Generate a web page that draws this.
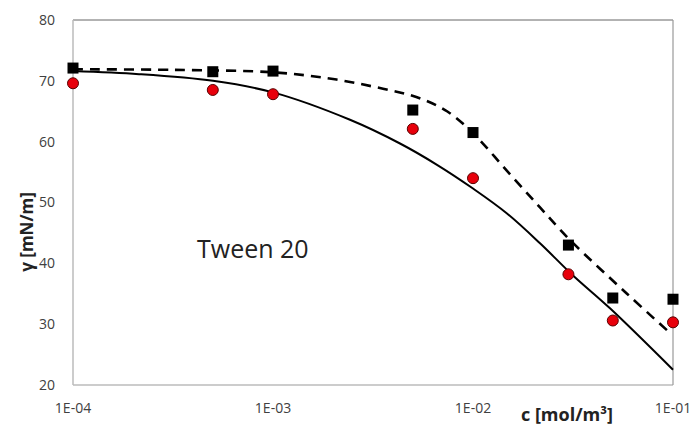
<!DOCTYPE html>
<html>
<head>
<meta charset="utf-8">
<script src="https://cdn.jsdelivr.net/npm/d3@7"></script>
<style>
  body { margin: 0; background: #fff; }
  text { font-family: 'Open Sans', sans-serif; }
</style>
</head>
<body>
<div id="chart"></div>
<script>
// measured points, c in mol/m3
const conc = [1e-4, 5e-4, 1e-3, 5e-3, 1e-2, 3e-2, 5e-2, 1e-1]
const gammaSquares = [72.1, 71.5, 71.6, 65.2, 61.5, 43.0, 34.3, 34.1]
const gammaCircles = [69.6, 68.5, 67.8, 62.1, 54.0, 38.2, 30.6, 30.3]

// fitted curves (log10 c, gamma)
const solidLogC = [-4.0, -3.67, -3.3, -3.0, -2.615, -2.365, -2.18, -2.0, -1.83, -1.665, -1.5, -1.315, -1.0]
const solidGamma = [71.6, 71.1, 70.0, 68.1, 63.6, 59.7, 56.2, 52.3, 48.2, 43.3, 38.0, 32.6, 22.5]
const dashLogC = [-4.0, -3.5, -3.0, -2.7, -2.45, -2.28, -2.13, -2.0, -1.83, -1.665, -1.52, -1.23, -1.03]
const dashGamma = [71.9, 71.8, 71.4, 70.3, 68.7, 67.3, 65.0, 61.4, 55.2, 49.2, 44.0, 35.0, 29.0]

const xTicks = [1e-4, 1e-3, 1e-2, 1e-1]
const xTickLabels = ['1E-04', '1E-03', '1E-02', '1E-01']
const yTicks = [20, 30, 40, 50, 60, 70, 80]

const width = 694
const height = 426
const margin = { top: 20, left: 73, right: 21, bottom: 41 }

const svg = d3
  .select('#chart')
  .append('svg')
  .attr('width', width)
  .attr('height', height)

const x = d3
  .scaleLog()
  .domain([1e-4, 1e-1])
  .range([margin.left, width - margin.right])

const y = d3
  .scaleLinear()
  .domain([20, 80])
  .range([height - margin.bottom, margin.top])

// plot frame
svg.append('line')
  .attr('x1', x(1e-4)).attr('x2', x(1e-1))
  .attr('y1', y(80)).attr('y2', y(80))
  .attr('stroke', '#666').attr('stroke-width', 1)
svg.append('line')
  .attr('x1', x(1e-1)).attr('x2', x(1e-1))
  .attr('y1', y(80)).attr('y2', y(20))
  .attr('stroke', '#999').attr('stroke-width', 1.2)
svg.append('line')
  .attr('x1', x(1e-4)).attr('x2', x(1e-1))
  .attr('y1', y(20)).attr('y2', y(20))
  .attr('stroke', '#999').attr('stroke-width', 1.2)
svg.append('line')
  .attr('x1', x(1e-4)).attr('x2', x(1e-4))
  .attr('y1', y(80)).attr('y2', y(20))
  .attr('stroke', '#bbb').attr('stroke-width', 1.5)

// tick labels
svg.append('g')
  .selectAll('text')
  .data(yTicks)
  .enter()
  .append('text')
  .attr('x', 55)
  .attr('y', d => y(d))
  .attr('dy', '0.35em')
  .attr('text-anchor', 'end')
  .attr('font-size', 14)
  .attr('fill', '#404040')
  .text(d => d)

svg.append('g')
  .selectAll('text')
  .data(xTicks)
  .enter()
  .append('text')
  .attr('x', d => x(d))
  .attr('y', 413)
  .attr('text-anchor', 'middle')
  .attr('font-size', 14)
  .attr('fill', '#404040')
  .text((d, i) => xTickLabels[i])

// axis titles
svg.append('text')
  .attr('x', 567)
  .attr('y', 421)
  .attr('text-anchor', 'middle')
  .attr('font-size', 18)
  .attr('font-weight', 'bold')
  .attr('fill', '#222')
  .text('c [mol/m³]')

svg.append('text')
  .attr('transform', 'translate(33,232) rotate(-90)')
  .attr('text-anchor', 'middle')
  .attr('font-size', 17)
  .attr('font-weight', 'bold')
  .attr('fill', '#222')
  .text('γ [mN/m]')

svg.append('text')
  .attr('x', 197)
  .attr('y', 258)
  .attr('font-size', 25)
  .attr('fill', '#222')
  .text('Tween 20')

// curves
const line = d3
  .line()
  .x(d => x(Math.pow(10, d[0])))
  .y(d => y(d[1]))
  .curve(d3.curveCatmullRom)

svg.append('path')
  .datum(solidLogC.map((c, i) => [c, solidGamma[i]]))
  .attr('d', line)
  .attr('fill', 'none')
  .attr('stroke', '#000')
  .attr('stroke-width', 2)

svg.append('path')
  .datum(dashLogC.map((c, i) => [c, dashGamma[i]]))
  .attr('d', line)
  .attr('fill', 'none')
  .attr('stroke', '#000')
  .attr('stroke-width', 2.6)
  .attr('stroke-dasharray', '10,7')

// markers
const sq = 11
svg.append('g')
  .selectAll('rect')
  .data(conc)
  .enter()
  .append('rect')
  .attr('x', d => x(d) - sq / 2)
  .attr('y', (d, i) => y(gammaSquares[i]) - sq / 2)
  .attr('width', sq)
  .attr('height', sq)
  .attr('fill', '#000')

svg.append('g')
  .selectAll('circle')
  .data(conc)
  .enter()
  .append('circle')
  .attr('cx', d => x(d))
  .attr('cy', (d, i) => y(gammaCircles[i]))
  .attr('r', 5.5)
  .attr('fill', '#e8000b')
  .attr('stroke', '#5a0000')
  .attr('stroke-width', 1)
</script>
</body>
</html>
